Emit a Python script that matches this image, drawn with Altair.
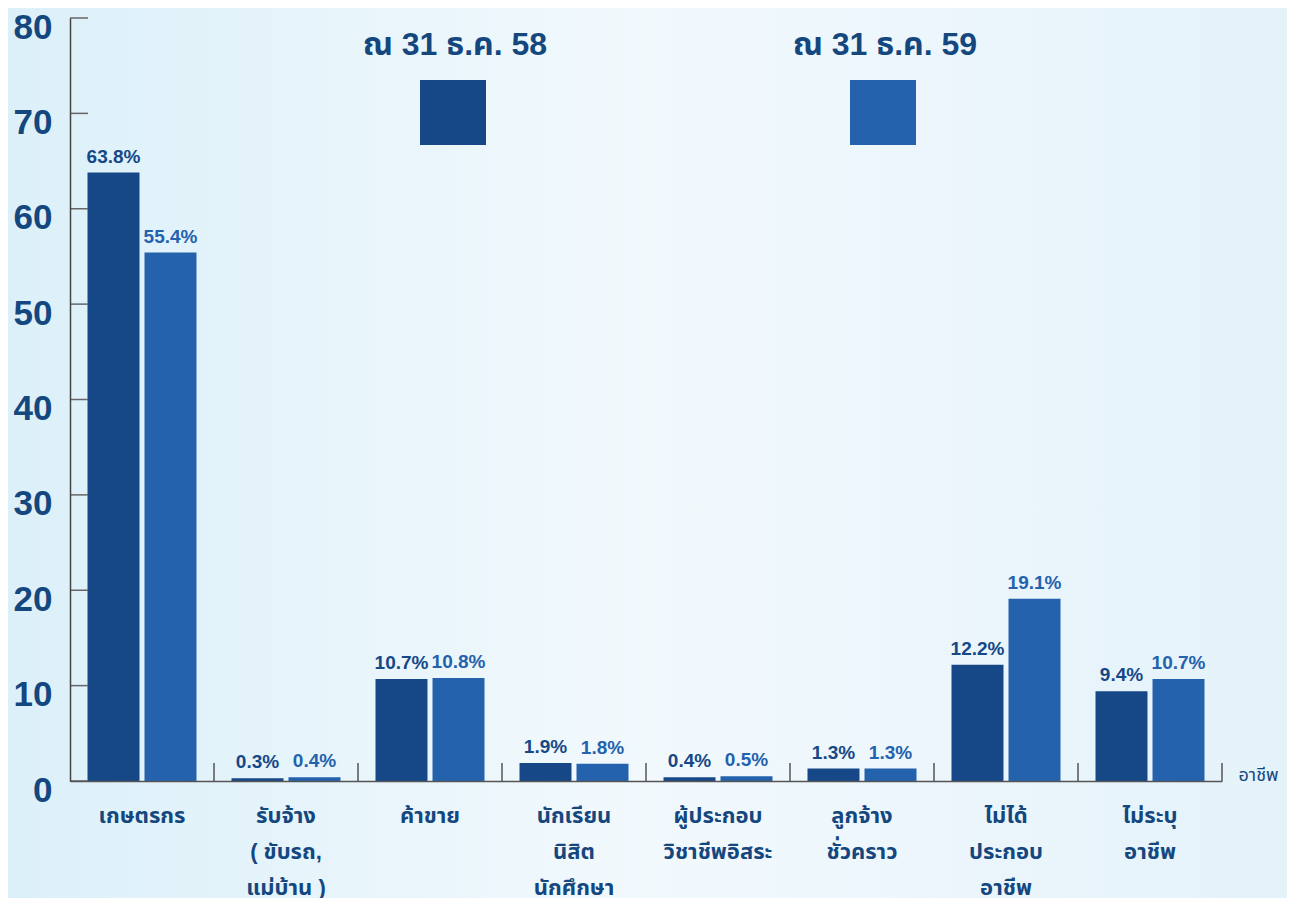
import altair as alt
import pandas as pd

categories = [
    "เกษตรกร",
    "รับจ้าง\n( ขับรถ,\nแม่บ้าน )",
    "ค้าขาย",
    "นักเรียน\nนิสิต\nนักศึกษา",
    "ผู้ประกอบ\nวิชาชีพอิสระ",
    "ลูกจ้าง\nชั่วคราว",
    "ไม่ได้\nประกอบ\nอาชีพ",
    "ไม่ระบุ\nอาชีพ",
]
series_names = ["ณ 31 ธ.ค. 58", "ณ 31 ธ.ค. 59"]
values_58 = [63.8, 0.3, 10.7, 1.9, 0.4, 1.3, 12.2, 9.4]
values_59 = [55.4, 0.4, 10.8, 1.8, 0.5, 1.3, 19.1, 10.7]
y_ticks = [0, 10, 20, 30, 40, 50, 60, 70, 80]
series_colors = ["#164887", "#2462ae"]
x_title = "อาชีพ"

rows = []
for c, a, b in zip(categories, values_58, values_59):
    rows.append({"cat": c, "series": series_names[0], "v": a, "lbl": f"{a}%"})
    rows.append({"cat": c, "series": series_names[1], "v": b, "lbl": f"{b}%"})
df = pd.DataFrame(rows)

FONT = "Liberation Sans, Noto Sans Thai, Noto Sans, sans-serif"
TXT = "#15477f"

color = alt.Color("series:N", scale=alt.Scale(domain=series_names, range=series_colors), legend=None)
x_enc = alt.X(
    "cat:N", sort=categories,
    scale=alt.Scale(paddingInner=0, paddingOuter=0),
    axis=alt.Axis(
        labelExpr="split(datum.value, '\\n')",
        labelAngle=0, labelFontSize=22, labelFontWeight="bold", labelFont=FONT, labelColor=TXT,
        labelLineHeight=36, labelPadding=24, labelBaseline="top",
        ticks=False, domainColor="#555", domainWidth=1.5, zindex=1,
        title=x_title, titleFont=FONT, titleFontSize=18, titleFontWeight="normal",
        titleColor=TXT, titleX=1168, titleY=-6, titleAlign="left", titleBaseline="middle",
        titleAnchor="start",
    ),
)
y_scale = alt.Scale(domain=[0, 80], nice=False)
y_enc = alt.Y(
    "v:Q", scale=y_scale,
    axis=alt.Axis(
        values=y_ticks, ticks=False, grid=False, domainColor="#444", domainWidth=1.5, zindex=1,
        labelFontSize=35, labelFontWeight="bold", labelFont=FONT, labelColor=TXT,
        labelPadding=18, labelOffset=9, title=None,
    ),
)
xoff = alt.XOffset("series:N", sort=series_names,
                   scale=alt.Scale(paddingInner=0.088, paddingOuter=0.307))

bg = alt.Chart(pd.DataFrame({"k": [0]})).mark_rect(
    fill=alt.Gradient(
        gradient="linear", x1=0, x2=1, y1=0, y2=0,
        stops=[
            alt.GradientStop(color="#dcf0f9", offset=0),
            alt.GradientStop(color="#f2f9fd", offset=0.5),
            alt.GradientStop(color="#e4f2fa", offset=1),
        ],
    )
).encode(x=alt.value(-62), x2=alt.value(1217), y=alt.value(-10), y2=alt.value(880))

bars = alt.Chart(df).mark_bar().encode(x=x_enc, xOffset=xoff, y=y_enc, color=color)

labels = alt.Chart(df).mark_text(
    dy=-6, baseline="bottom", fontSize=19, fontWeight="bold", font=FONT
).encode(x=alt.X("cat:N", sort=categories), xOffset=xoff, y="v:Q", text="lbl:N", color=color)

ytick_df = pd.DataFrame({"t": y_ticks})
yticks = alt.Chart(ytick_df).mark_rule(color="#666", strokeWidth=1.5).encode(
    y=alt.Y("t:Q", scale=y_scale), x=alt.value(0), x2=alt.value(18)
)

xtick_df = pd.DataFrame({"cat": categories})
xticks = alt.Chart(xtick_df).mark_rule(color="#555", strokeWidth=1.5).encode(
    x=alt.X("cat:N", sort=categories, bandPosition=1),
    y=alt.value(763), y2=alt.value(745),
)

leg_layers = []
for name, tx in zip(series_names, [385, 815]):
    ld = pd.DataFrame({"series": [name]})
    leg_layers.append(
        alt.Chart(ld).mark_text(fontSize=32, fontWeight="bold", font=FONT, color=TXT, baseline="middle").encode(
            x=alt.value(tx), y=alt.value(27), text="series:N"
        )
    )
    leg_layers.append(
        alt.Chart(ld).mark_rect().encode(
            x=alt.value(tx - 35), x2=alt.value(tx + 31), y=alt.value(62), y2=alt.value(127), color=color
        )
    )

chart = alt.layer(bg, bars, labels, yticks, xticks, *leg_layers).properties(
    width=1152, height=763,
    autosize=alt.AutoSizeParams(type="none"),
    padding={"left": 62, "top": 10, "right": 65, "bottom": 117},
    background="#e6f3fb",
).configure_view(stroke=None)

chart.save("out.html", embed_options={"renderer": "svg", "actions": False})
